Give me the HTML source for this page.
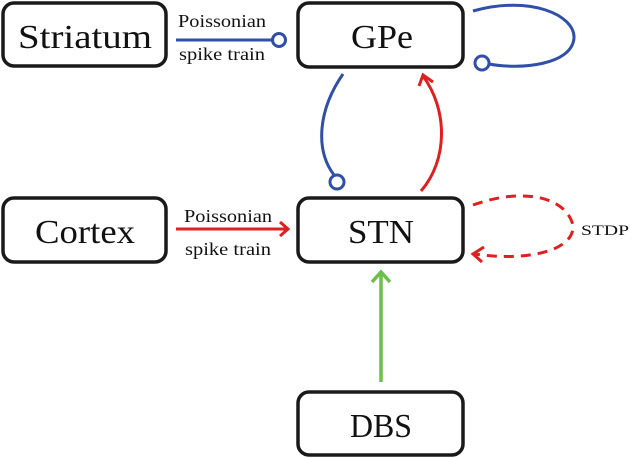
<!DOCTYPE html>
<html><head><style>
body{margin:0;background:#fff;}
svg{display:block;font-family:"Liberation Serif",serif;}
</style></head><body>
<svg width="630" height="458" viewBox="0 0 630 458">
<g fill="#fff" stroke="#1a1a1a" stroke-width="3.5">
<rect x="3" y="3" width="163" height="63" rx="11"/>
<rect x="298" y="3" width="165" height="64" rx="11"/>
<rect x="3" y="198" width="163" height="64" rx="11"/>
<rect x="298" y="198" width="165" height="64" rx="11"/>
<rect x="298" y="392" width="165" height="63" rx="11"/>
</g>
<g font-size="34" fill="#111" lengthAdjust="spacingAndGlyphs">
<text x="18" y="48" textLength="134" lengthAdjust="spacingAndGlyphs">Striatum</text>
<text x="351" y="48" textLength="62" lengthAdjust="spacingAndGlyphs">GPe</text>
<text x="35" y="243" textLength="100" lengthAdjust="spacingAndGlyphs">Cortex</text>
<text x="348" y="243" textLength="66" lengthAdjust="spacingAndGlyphs">STN</text>
<text x="350" y="437" textLength="62" lengthAdjust="spacingAndGlyphs">DBS</text>
</g>
<g font-size="18" fill="#111">
<text x="178" y="27" textLength="88" lengthAdjust="spacingAndGlyphs">Poissonian</text>
<text x="179" y="60" textLength="86" lengthAdjust="spacingAndGlyphs">spike train</text>
<text x="184" y="222" textLength="88" lengthAdjust="spacingAndGlyphs">Poissonian</text>
<text x="185" y="255" textLength="86" lengthAdjust="spacingAndGlyphs">spike train</text>
</g>
<text x="581" y="235" font-size="15" fill="#111" textLength="48" lengthAdjust="spacingAndGlyphs">STDP</text>
<g fill="none" stroke="#2f4fa8" stroke-width="3">
<line x1="176" y1="40" x2="272" y2="40"/>
<circle cx="279" cy="40" r="6.5"/>
<path d="M473 11 C530 -5 575 15 574 38 C572 65 520 70 489 64"/>
<circle cx="482" cy="63" r="7"/>
<path d="M343 74 C318 110 315 150 334 175"/>
<circle cx="337" cy="182" r="7"/>
</g>
<g fill="none" stroke="#e02020" stroke-width="3">
<path d="M421 191 C448 160 448 110 423 76"/>
<path d="M419 86 L423 75 L433 82"/>
<line x1="176" y1="229" x2="287" y2="229"/>
<path d="M280 222 L288 229 L280 236"/>
<path d="M473 205 C520 188 565 195 573 225 C575 250 530 262 474 254" stroke-dasharray="10 7"/>
<path d="M484 247 L473 254 L482 262"/>
</g>
<g fill="none" stroke="#6cc04a" stroke-width="3.5">
<line x1="381" y1="382" x2="381" y2="272"/>
<path d="M372 282 L381 272 L390 282"/>
</g>
</svg>
</body></html>
